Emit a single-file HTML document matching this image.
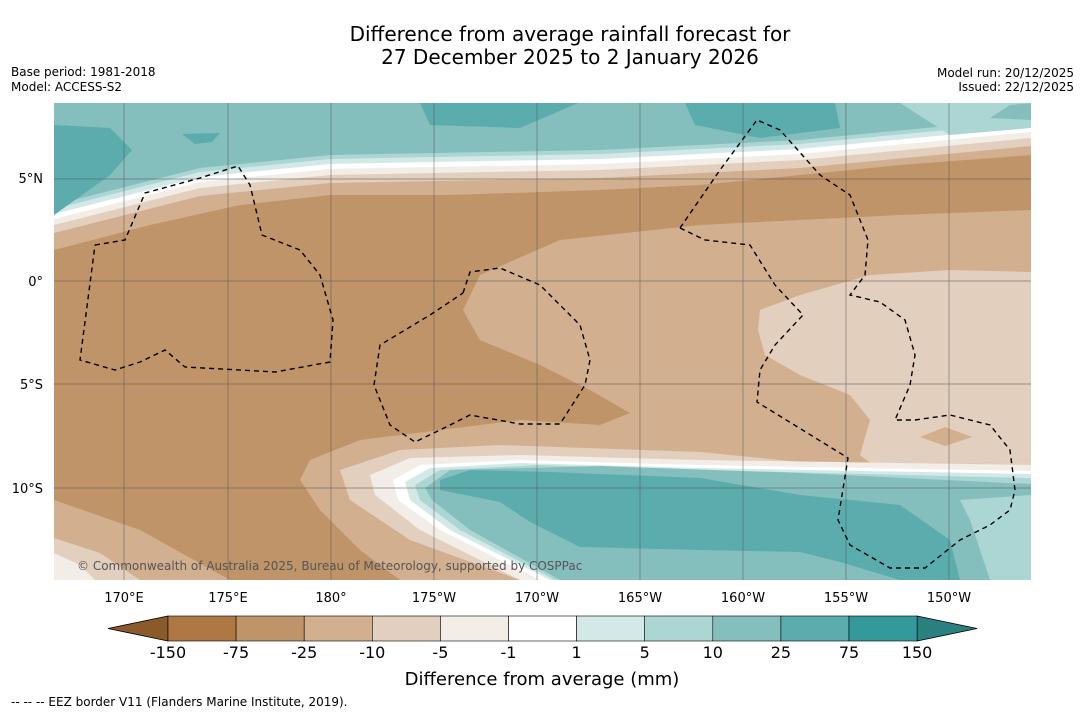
<!DOCTYPE html>
<html><head><meta charset="utf-8"><style>
body{margin:0;background:#fff;font-family:"DejaVu Sans","Liberation Sans",sans-serif;}
svg{display:block;font-family:"DejaVu Sans","Liberation Sans",sans-serif;}
</style></head><body>
<svg width="1085" height="713" viewBox="0 0 1085 713">
<text x="570" y="41" font-size="20" text-anchor="middle">Difference from average rainfall forecast for</text>
<text x="570" y="64" font-size="20" text-anchor="middle">27 December 2025 to 2 January 2026</text>
<text x="11" y="76" font-size="12">Base period: 1981-2018</text>
<text x="11" y="91" font-size="12">Model: ACCESS-S2</text>
<text x="1074" y="77" font-size="12" text-anchor="end">Model run: 20/12/2025</text>
<text x="1074" y="91" font-size="12" text-anchor="end">Issued: 22/12/2025</text>
<defs><clipPath id="mc"><rect x="54" y="103" width="977" height="477"/></clipPath></defs>
<g clip-path="url(#mc)">
<rect x="54" y="103" width="977" height="477" fill="#d2b08f"/>
<polygon fill="#bf9469" points="54,250 150,225 240,205 330,195 450,195 600,190 700,185 800,175 900,165 1031,155 1031,210 900,215 700,225 560,240 480,275 463,310 480,340 540,365 590,390 630,413 600,425 520,420 440,430 360,440 310,460 300,480 320,510 360,550 400,580 230,580 140,530 54,500"/>
<polygon fill="#e3cfbd" points="760,310 800,295 870,275 950,270 1031,272 1031,460 950,465 880,470 860,455 870,420 850,395 800,375 765,355 758,330"/>
<polygon fill="#d2b08f" points="920,437 945,427 972,437 945,446"/>
<polygon fill="#e3cfbd" points="54,538 100,553 140,580 54,580"/>
<polygon fill="#f2ede6" points="54,553 80,565 95,580 54,580"/>
<g>
<polygon fill="#e3cfbd" points="54,103 1031,103 1031,146 800,168 600,178 330,183 200,196 54,233"/>
<polygon fill="#f2ede6" points="54,103 1031,103 1031,138 800,160 600,170 330,175 200,188 54,225"/>
<polygon fill="#ffffff" points="54,103 1031,103 1031,132 800,154 600,164 330,169 200,182 54,219"/>
<polygon fill="#d3e9e7" points="54,103 1031,103 1031,127 800,149 600,159 330,164 200,177 54,214"/>
<polygon fill="#acd6d4" points="54,103 1031,103 1031,122 800,144 600,154 330,159 200,172 54,209"/>
<polygon fill="#84bfbe" points="54,103 1031,103 1031,118 800,140 600,150 330,155 200,168 54,205"/>
<polygon fill="#acd6d4" points="900,103 1031,103 1031,128 950,135"/>
<polygon fill="#84bfbe" points="990,118 1010,105 1031,103 1031,120"/>
<polygon fill="#5aacad" points="54,125 110,128 132,150 110,175 54,215"/>
<polygon fill="#5aacad" points="420,103 578,103 520,128 430,125"/>
<polygon fill="#5aacad" points="685,103 835,103 840,128 760,138 695,125"/>
<polygon fill="#5aacad" points="182,134 220,133 212,142 195,144"/>
</g>
<g>
<polygon fill="#e3cfbd" points="340,470 400,450 500,445 700,452 880,470 1031,460 1031,580 520,580 410,540 350,500"/>
<polygon fill="#f2ede6" points="370,475 410,458 520,455 700,460 1031,465 1031,580 520,580 420,530 375,495"/>
<polygon fill="#ffffff" points="393,480 420,465 520,460 700,465 1031,471 1031,580 540,580 440,530 398,500"/>
<polygon fill="#d3e9e7" points="405,482 430,468 520,463 700,468 1031,474 1031,580 550,580 450,530 410,500"/>
<polygon fill="#acd6d4" points="415,485 440,470 540,465 700,470 1031,478 1031,580 555,580 460,530 420,500"/>
<polygon fill="#84bfbe" points="425,488 450,470 600,466 800,473 1031,484 1031,580 560,580 470,530 432,500"/>
<polygon fill="#acd6d4" points="960,500 1031,495 1031,580 990,580 970,520"/>
<polygon fill="#5aacad" points="440,480 470,470 550,472 700,478 800,495 900,505 950,540 960,580 900,580 840,562 800,552 700,550 580,547 530,522 500,502 470,496 440,490"/>
</g>
<g stroke="#555" stroke-width="0.7" opacity="0.7">
<line x1="124" y1="103" x2="124" y2="580"/><line x1="228" y1="103" x2="228" y2="580"/><line x1="331" y1="103" x2="331" y2="580"/><line x1="434" y1="103" x2="434" y2="580"/><line x1="537" y1="103" x2="537" y2="580"/><line x1="640" y1="103" x2="640" y2="580"/><line x1="743" y1="103" x2="743" y2="580"/><line x1="846" y1="103" x2="846" y2="580"/><line x1="949" y1="103" x2="949" y2="580"/>
<line x1="54" y1="179" x2="1031" y2="179"/><line x1="54" y1="281" x2="1031" y2="281"/><line x1="54" y1="384" x2="1031" y2="384"/><line x1="54" y1="488" x2="1031" y2="488"/>
</g>
<g fill="none" stroke="#000" stroke-width="1.4" stroke-dasharray="5,4">
<polyline points="95,245 125,240 145,193 200,178 238,166 250,185 262,235 300,250 320,275 333,320 330,362 275,372 185,367 165,350 140,362 115,370 80,360 95,245"/>
<polyline points="463,293 470,272 500,268 540,285 580,325 590,360 585,385 560,424 520,424 470,415 440,430 415,442 390,425 374,385 380,345 430,315 463,293"/>
<polyline points="680,228 720,170 757,120 780,130 820,175 850,195 868,240 865,275 850,295 880,302 905,320 915,355 910,385 895,420 915,420 950,415 990,425 1010,450 1015,490 1010,510 990,525 960,540 925,568 890,568 850,545 838,520 848,458 757,402 760,370 775,345 803,315 775,285 750,245 705,240 680,228"/>
</g>
<text x="77" y="570" font-size="12" fill="#555">© Commonwealth of Australia 2025, Bureau of Meteorology, supported by COSPPac</text>
</g>
<g font-size="13" text-anchor="middle">
<text x="124" y="602">170°E</text><text x="228" y="602">175°E</text><text x="331" y="602">180°</text><text x="434" y="602">175°W</text><text x="537" y="602">170°W</text><text x="640" y="602">165°W</text><text x="743" y="602">160°W</text><text x="846" y="602">155°W</text><text x="949" y="602">150°W</text>
</g>
<g font-size="13" text-anchor="end">
<text x="43" y="183">5°N</text><text x="43" y="286">0°</text><text x="43" y="389">5°S</text><text x="43" y="493">10°S</text>
</g>
<g id="cbar"></g>
<text x="542" y="685" font-size="18" text-anchor="middle">Difference from average (mm)</text>
<text x="11" y="706" font-size="12">-- -- -- EEZ border V11 (Flanders Marine Institute, 2019).</text>
</svg>
<script>
const binColors=["#ad7843","#bf9469","#d2b08f","#e3cfbd","#f2ede6","#ffffff","#d3e9e7","#acd6d4","#84bfbe","#5aacad","#33999a"];
const tickLabels=["-150","-75","-25","-10","-5","-1","1","5","10","25","75","150"];
const ns="http://www.w3.org/2000/svg";
const g=document.getElementById('cbar');
const x0=168,w=68.1,y0=616,h=25;
function mk(t,a){const e=document.createElementNS(ns,t);for(const k in a)e.setAttribute(k,a[k]);g.appendChild(e);return e;}
const lt=mk('polygon',{points:`108,${y0+h/2} ${x0},${y0} ${x0},${y0+h}`,fill:'#8b5a2b',stroke:'#000','stroke-width':0.8});


const xe=x0+w*binColors.length;
const rt=mk('polygon',{points:`${xe},${y0} ${xe+60},${y0+h/2} ${xe},${y0+h}`,fill:'#2a7f7f',stroke:'#000','stroke-width':0.8});


binColors.forEach((c,i)=>{
 const r=mk('rect',{x:x0+i*w,y:y0,width:w,height:h,fill:c,stroke:'#000','stroke-width':0.6});
 
 
});
tickLabels.forEach((t,i)=>{
 const e=mk('text',{x:x0+i*w,y:658,'font-size':16,'text-anchor':'middle'});
 e.textContent=t;
 
 
});
</script>
</body></html>
